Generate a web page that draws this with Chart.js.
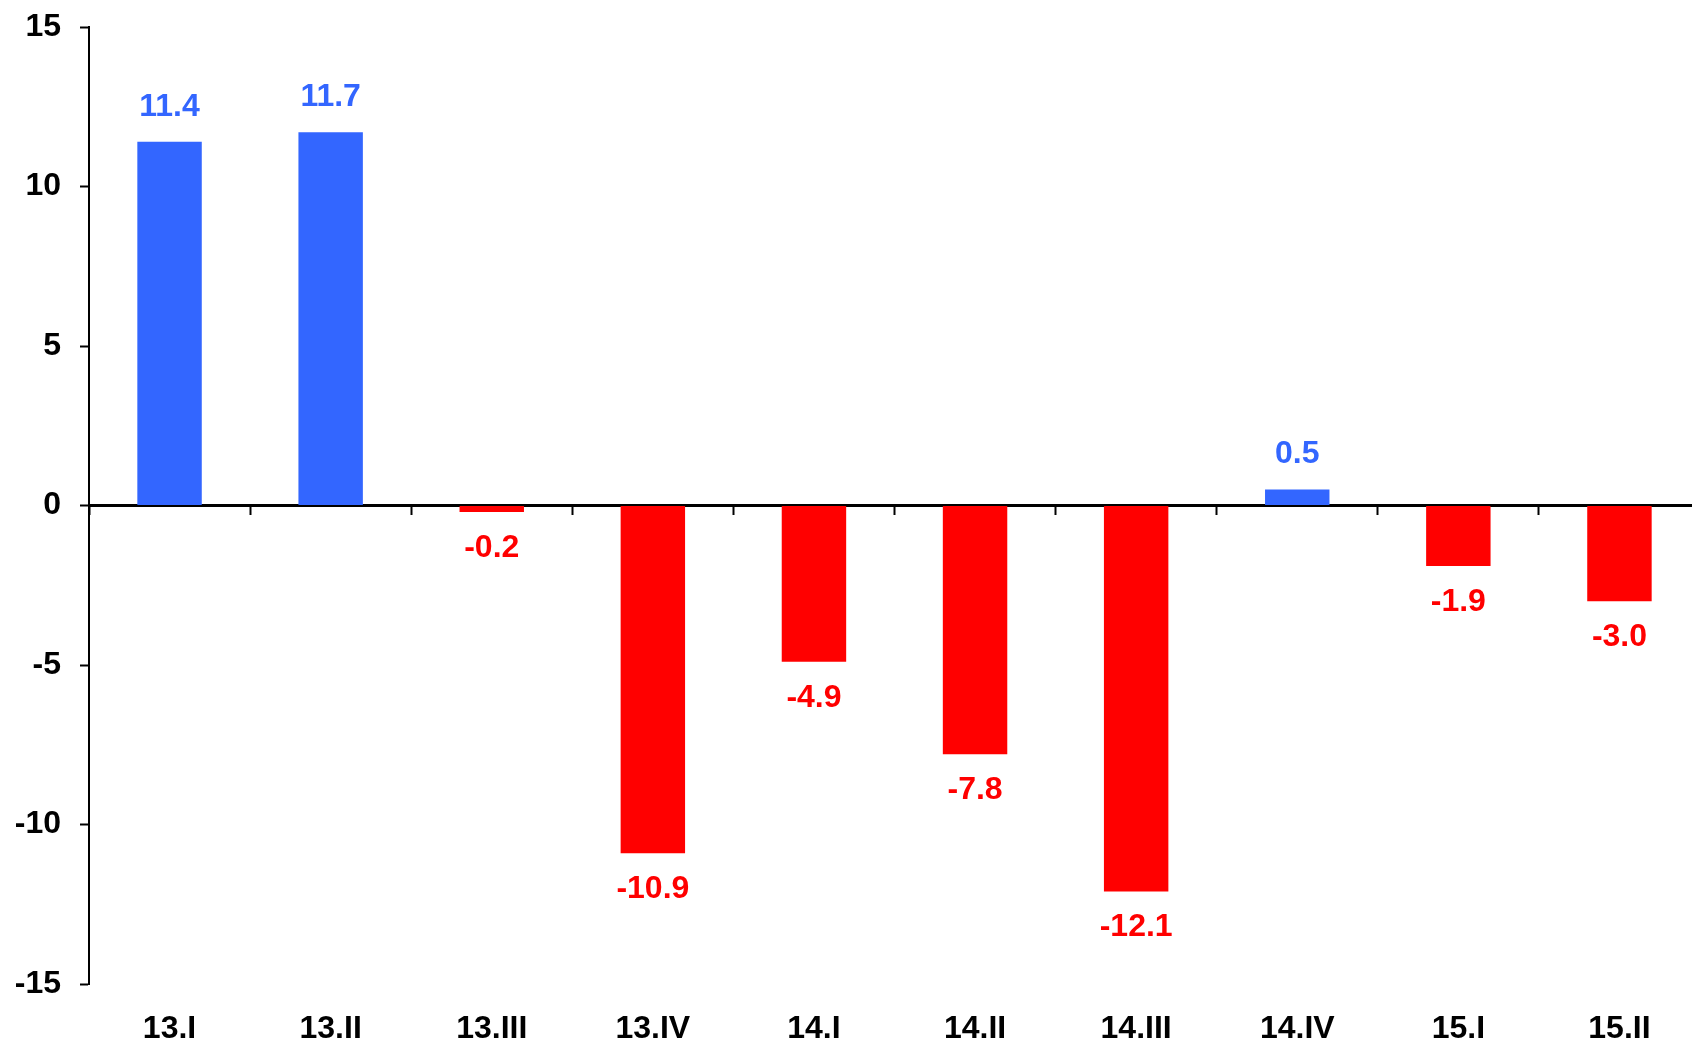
<!DOCTYPE html>
<html>
<head>
<meta charset="utf-8">
<script src="https://cdn.jsdelivr.net/npm/chart.js@4/dist/chart.umd.min.js"></script>
<style>
    html, body { margin: 0; padding: 0; background: #fff; overflow: hidden; }
    .chart { width: 1700px; height: 1042px; }
</style>
</head>
<body>
<div class="chart"><canvas id="chart-bar"></canvas></div>
<script>
    // data
    const quarters = ["13.I", "13.II", "13.III", "13.IV", "14.I", "14.II", "14.III", "14.IV", "15.I", "15.II"];
    const values = [11.4, 11.7, -0.2, -10.9, -4.9, -7.8, -12.1, 0.5, -1.9, -3.0];
    const yTicks = [-15, -10, -5, 0, 5, 10, 15];

    const BLUE = "#3366FF";
    const RED = "#FF0000";
    const FONT = "'Liberation Sans', Arial, sans-serif";

    // value labels above / below the bars
    const barLabels = {
        id: "barLabels",
        afterDatasetsDraw: function (chart) {
            var ctx = chart.ctx;
            var meta = chart.getDatasetMeta(0);
            ctx.save();
            ctx.font = "bold 32px " + FONT;
            ctx.textAlign = "center";
            ctx.textBaseline = "middle";
            meta.data.forEach(function (bar, i) {
                var v = values[i];
                ctx.fillStyle = v >= 0 ? BLUE : RED;
                var y = v >= 0 ? bar.y - 35 : bar.y + 36;
                ctx.fillText(v.toFixed(1), bar.x, y);
            });
            ctx.restore();
        }
    };

    var ctx1 = document.getElementById("chart-bar").getContext("2d");
    new Chart(ctx1, {
        type: "bar",
        data: {
            labels: quarters,
            datasets: [{
                data: values,
                backgroundColor: function (c) { return c.raw >= 0 ? BLUE : RED; },
                borderWidth: 0,
                barPercentage: 0.4,
                categoryPercentage: 1.0
            }]
        },
        options: {
            responsive: true,
            maintainAspectRatio: false,
            animation: false,
            layout: { padding: { top: 19, left: 0, right: 0, bottom: 0 } },
            plugins: {
                legend: { display: false },
                tooltip: { enabled: false }
            },
            scales: {
                y: {
                    min: -15,
                    max: 15,
                    afterBuildTicks: function (scale) {
                        scale.ticks = yTicks.map(function (v) { return { value: v }; });
                    },
                    afterFit: function (scale) { scale.width = 89; },
                    border: { display: true, color: "#000", width: 2 },
                    grid: {
                        drawOnChartArea: false,
                        drawTicks: true,
                        tickLength: 9,
                        tickWidth: 2,
                        tickColor: "#000"
                    },
                    ticks: {
                        color: "#000",
                        padding: 19,
                        font: { size: 32, weight: "bold", family: FONT, lineHeight: 0.5 }
                    }
                },
                x: {
                    position: "bottom",
                    afterFit: function (scale) { scale.height = 58; },
                    border: { display: false },
                    grid: { display: false, drawTicks: false },
                    ticks: {
                        color: "#000",
                        padding: 26,
                        maxRotation: 0,
                        font: { size: 32, weight: "bold", family: FONT }
                    }
                },
                x0: {
                    type: "category",
                    position: { y: 0 },
                    z: 1,
                    offset: true,
                    border: { display: true, color: "#000", width: 3 },
                    grid: {
                        offset: true,
                        drawOnChartArea: false,
                        drawTicks: true,
                        tickLength: 8,
                        tickWidth: 2,
                        tickColor: "#000"
                    },
                    ticks: { display: false }
                }
            }
        },
        plugins: [barLabels]
    });
</script>
</body>
</html>
